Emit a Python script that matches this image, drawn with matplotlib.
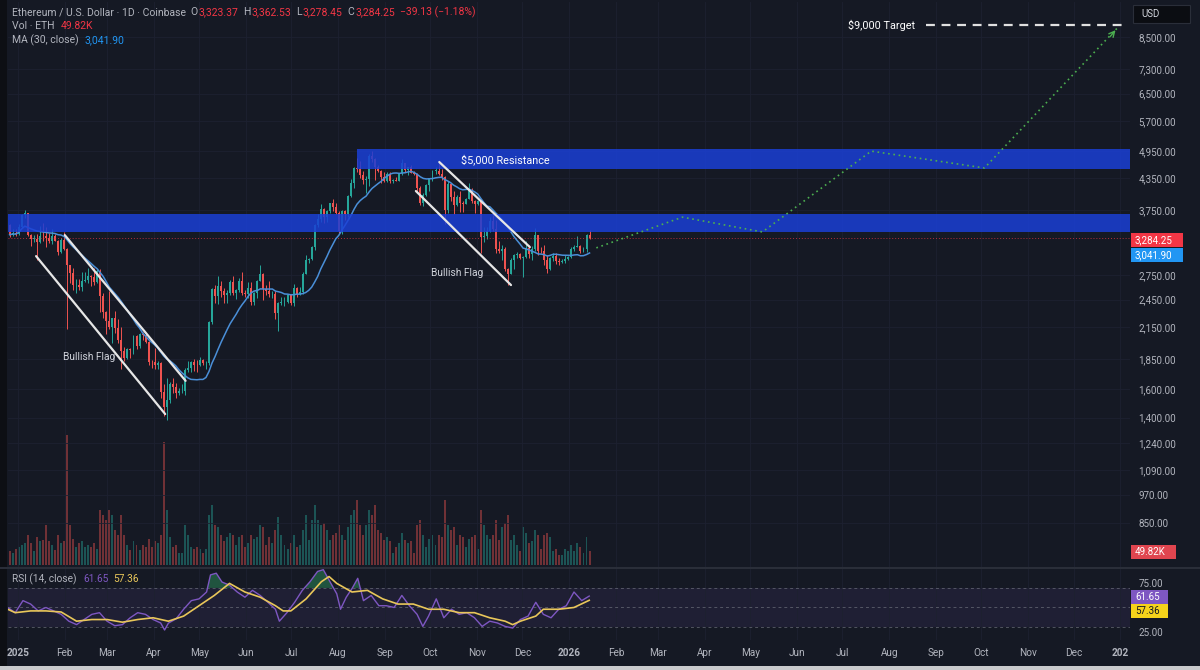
import numpy as np
import pandas as pd
import matplotlib
matplotlib.use("Agg")
import matplotlib.pyplot as plt
from matplotlib.patches import Rectangle
from matplotlib.colors import to_rgba
from matplotlib.ticker import NullLocator

plt.rcParams["font.family"] = ["Roboto", "DejaVu Sans"]

W, H = 1200, 670
BG = "#151924"
GRID = "#1d2130"
TXT = "#b2b5be"
UP = "#26a69a"
DOWN = "#ef5350"
RED = "#f23645"
ZONE = "#1a3fd6"
PURPLE = "#7e57c2"
YELLOW = "#e9c75a"

# day 0 = 1 Jan 2025, each candle covers two days, the first one 26-27 Dec 2024
first_day = -6
first_open = 3490
close = [3330, 3355, 3335, 3450, 3655, 3685, 3330, 3265, 3270, 3225,
         3310, 3305, 3280, 3240, 3310, 3240, 3075, 3250, 3120, 2880,
         2785, 2620, 2630, 2600, 2675, 2690, 2745, 2720, 2660, 2810,
         2490, 2305, 2215, 2150, 2240, 2140, 2020, 1920, 1860, 1935,
         1925, 2060, 1965, 2085, 2070, 2000, 1825, 1820, 1795, 1815,
         1580, 1470, 1520, 1645, 1620, 1575, 1585, 1585, 1755, 1770,
         1820, 1800, 1795, 1840, 1810, 1815, 2205, 2580, 2490, 2610,
         2550, 2500, 2530, 2665, 2530, 2565, 2680, 2530, 2510, 2590,
         2420, 2525, 2680, 2770, 2580, 2550, 2510, 2520, 2295, 2410,
         2420, 2425, 2500, 2405, 2590, 2515, 2540, 2770, 2960, 2970,
         3140, 3480, 3595, 3760, 3630, 3720, 3870, 3795, 3700, 3390,
         3720, 3680, 4010, 4260, 4580, 4550, 4425, 4310, 4340, 4830,
         4770, 4600, 4510, 4370, 4300, 4450, 4300, 4305, 4300, 4460,
         4670, 4520, 4590, 4470, 4450, 4160, 3870, 4020, 4215, 4350,
         4510, 4515, 4450, 4370, 3750, 4240, 3985, 3830, 3985, 3870,
         3855, 3950, 4120, 3900, 3850, 3905, 3290, 3310, 3395, 3560,
         3415, 3110, 3080, 3115, 2830, 2770, 2955, 3025, 3040, 2990,
         3000, 3130, 3040, 3115, 3320, 3090, 3080, 2950, 2830, 2980,
         3005, 2945, 2925, 2945, 2970, 3000, 3110, 3140, 3160, 3085,
         3120, 3320, 3284.25]
high = [3500, 3420, 3430, 3500, 3670, 3745, 3700, 3340, 3320, 3340,
        3470, 3525, 3450, 3360, 3420, 3350, 3250, 3285, 3380, 3130,
        2890, 2850, 2700, 2700, 2790, 2790, 2850, 2755, 2845, 2830,
        2830, 2530, 2320, 2550, 2250, 2320, 2230, 2150, 1960, 1950,
        1950, 2070, 2070, 2090, 2105, 2080, 2010, 1840, 1950, 1830,
        1820, 1640, 1690, 1660, 1690, 1650, 1610, 1640, 1775, 1830,
        1830, 1850, 1840, 1870, 1850, 1830, 2210, 2590, 2620, 2740,
        2680, 2590, 2560, 2690, 2740, 2580, 2710, 2790, 2560, 2660,
        2660, 2540, 2690, 2880, 2780, 2620, 2680, 2550, 2550, 2420,
        2480, 2480, 2520, 2520, 2640, 2600, 2600, 2790, 3020, 2990,
        3160, 3500, 3680, 3860, 3780, 3750, 3880, 3940, 3880, 3720,
        3740, 3740, 4030, 4330, 4600, 4790, 4720, 4500, 4400, 4880,
        4955, 4800, 4630, 4530, 4490, 4480, 4480, 4330, 4380, 4470,
        4760, 4680, 4600, 4640, 4500, 4470, 4200, 4060, 4230, 4360,
        4530, 4590, 4755, 4540, 4390, 4290, 4250, 4100, 4030, 4090,
        3900, 3960, 4250, 4160, 3930, 3920, 3930, 3450, 3460, 3630,
        3650, 3580, 3240, 3170, 3140, 2850, 2980, 3040, 3070, 3050,
        3010, 3230, 3180, 3160, 3440, 3330, 3150, 3180, 3020, 3000,
        3060, 3050, 2980, 2970, 3030, 3010, 3150, 3180, 3310, 3170,
        3150, 3340, 3400]
low = [3290, 3310, 3310, 3330, 3440, 3600, 3310, 3160, 3220, 2950,
       3200, 3240, 3150, 3210, 3190, 3235, 3020, 3060, 3100, 2130,
       2650, 2560, 2530, 2560, 2550, 2660, 2650, 2610, 2620, 2650,
       2310, 2250, 2080, 2130, 1990, 2090, 1990, 1760, 1830, 1850,
       1860, 1890, 1940, 1950, 2020, 1990, 1800, 1770, 1760, 1760,
       1540, 1410, 1385, 1500, 1570, 1540, 1560, 1570, 1560, 1740,
       1740, 1750, 1740, 1790, 1800, 1760, 1800, 2180, 2410, 2400,
       2480, 2410, 2410, 2500, 2500, 2460, 2540, 2500, 2480, 2470,
       2390, 2390, 2470, 2670, 2450, 2500, 2480, 2470, 2230, 2110,
       2390, 2380, 2410, 2390, 2380, 2480, 2500, 2520, 2760, 2920,
       2960, 3100, 3450, 3540, 3520, 3540, 3700, 3720, 3680, 3360,
       3350, 3570, 3630, 3980, 4150, 4480, 4360, 4240, 4060, 4200,
       4700, 4320, 4480, 4260, 4270, 4280, 4260, 4250, 4290, 4290,
       4420, 4490, 4430, 4460, 4430, 4080, 3840, 3820, 4000, 4100,
       4300, 4440, 4420, 4320, 3500, 3700, 3900, 3680, 3820, 3710,
       3710, 3850, 3940, 3880, 3700, 3840, 3060, 3220, 3260, 3380,
       3390, 3050, 3050, 2950, 2800, 2625, 2760, 2830, 2990, 2970,
       2720, 2990, 2990, 2950, 3090, 3020, 3050, 2890, 2775, 2820,
       2940, 2900, 2890, 2910, 2910, 2950, 2990, 3090, 3140, 3050,
       3070, 3070, 3270]
volume_k = [108, 92, 123, 139, 154, 169, 231, 169, 108, 216,
            185, 193, 308, 185, 154, 116, 231, 169, 185, 1000,
            308, 200, 139, 169, 185, 139, 154, 139, 169, 123,
            424, 385, 347, 424, 385, 270, 231, 385, 231, 154,
            116, 185, 154, 116, 154, 139, 200, 139, 185, 169,
            231, 950, 424, 216, 139, 154, 92, 92, 308, 231,
            139, 123, 139, 123, 92, 123, 385, 462, 308, 293,
            231, 185, 216, 246, 231, 154, 216, 231, 139, 169,
            231, 200, 216, 308, 293, 154, 216, 169, 270, 370,
            231, 154, 123, 169, 231, 139, 154, 270, 385, 193,
            347, 462, 347, 308, 323, 270, 193, 231, 246, 308,
            231, 193, 293, 385, 424, 501, 308, 231, 308, 424,
            385, 462, 270, 246, 193, 216, 185, 92, 139, 169,
            246, 193, 169, 185, 92, 308, 347, 231, 139, 200,
            231, 154, 231, 216, 501, 308, 270, 293, 154, 231,
            216, 139, 200, 216, 231, 123, 424, 308, 231, 200,
            231, 347, 193, 293, 323, 385, 193, 231, 154, 108,
            293, 246, 169, 185, 270, 231, 123, 231, 246, 216,
            108, 123, 77, 77, 123, 108, 154, 108, 169, 139,
            92, 216, 108]

rsi_day = [-6.8, -1.8, 3.3, 8.4, 13.4, 18.5, 23.6, 28.6, 33.7, 38.8,
           43.8, 48.9, 54, 59, 64.1, 69.2, 74.3, 79.3, 84.4, 89.5,
           94.5, 97.1, 99.6, 104.7, 109.7, 114.8, 119.9, 124.9, 127.5, 131.3,
           135.1, 140.1, 145.2, 150.3, 155.3, 160.4, 165.5, 170.5, 173.1, 178.1,
           183.2, 188.3, 193.4, 198.4, 202.2, 206, 211.1, 213.6, 217.4, 221.2,
           225, 228.8, 233.9, 239, 244, 249.1, 254.2, 259.2, 264.3, 268.1,
           271.9, 277, 282, 287.1, 292.2, 297.2, 302.3, 307.4, 312.4, 317.5,
           322.6, 327.6, 332.7, 337.8, 342.9, 347.9, 353, 358.1, 363.1, 368.2,
           373.3, 378.3]
rsi_val = [50, 44.7, 57, 53.5, 46.5, 50, 46.5, 43, 36, 32.5,
           37.7, 43, 44.7, 36, 31.4, 32.5, 39.5, 44.7, 43, 37.7,
           34.2, 27, 34, 38.4, 48.2, 57, 58.8, 65.8, 83.3, 85,
           76, 72.8, 65.8, 60.5, 67.5, 62.3, 55.3, 48.2, 36, 44.7,
           55.3, 67.5, 76.3, 86.8, 88.6, 78, 64, 48.2, 60.5, 69.3,
           79.8, 57, 62.3, 51.8, 51.8, 50, 62.3, 51.8, 43, 30.7,
           41.2, 58.8, 39.5, 48.2, 43, 44.7, 39.5, 30.7, 36, 34.2,
           30.7, 29, 37.7, 41.2, 55.3, 43, 39.5, 48.2, 51.8, 65.8,
           57, 61.65]
rsi_ma_day = [-6.8, -1.8, 8.4, 18.5, 28.6, 38.8, 48.9, 59, 69.2, 79.3,
              89.5, 99.6, 109.7, 119.9, 130, 140.1, 150.3, 160.4, 170.5, 175.6,
              180.7, 190.8, 200.9, 206, 211.1, 221.2, 231.4, 241.5, 251.6, 261.8,
              271.9, 282, 292.2, 302.3, 312.4, 322.6, 327.6, 332.7, 342.9, 347.9,
              358.1, 368.2, 378.3]
rsi_ma_val = [48.2, 44.7, 46.5, 46.5, 45.4, 36, 37.7, 37.7, 35, 37.7,
              39.5, 36, 41.2, 51.8, 62.3, 74.6, 65.8, 60.5, 51.8, 46.5,
              46.5, 58.8, 76.3, 81.6, 74.6, 65.8, 67.5, 58.8, 53.5, 53.5,
              48.2, 48.2, 44.7, 44.7, 39.5, 36, 32.5, 36, 41.2, 48.2,
              48.2, 50, 57.36]

# drawn projection and annotations
proj_day = [383, 440, 493, 565, 640, 728]
proj_price = [3130, 3620, 3375, 4950, 4570, 8870]
flag1_upper = ([31, 111], [3325, 1667])
flag1_lower = ([12, 97.5], [3010, 1424])
flag2_upper = ([279, 339], [4700, 3141])
flag2_lower = ([263.5, 326.5], [4097, 2624])
support_zone = (3375, 3675)
resistance_zone = (4550, 5000)
resistance_start = 224.5

price_ticks = [8500, 7300, 6500, 5700, 4950, 4350, 3750, 2750, 2450, 2150,
               1850, 1600, 1400, 1240, 1090, 970, 850]
month_days = [0, 31, 59, 90, 120, 151, 181, 212, 243, 273, 304, 334,
              365, 396, 424, 455, 485, 516, 546, 577, 608, 638, 669, 699, 730]
month_labels = ["2025", "Feb", "Mar", "Apr", "May", "Jun", "Jul", "Aug", "Sep", "Oct", "Nov", "Dec",
                "2026", "Feb", "Mar", "Apr", "May", "Jun", "Jul", "Aug", "Sep", "Oct", "Nov", "Dec", "202"]

XMIN, XMAX = -6.6, 736.4


def px_rect(x0, y0, x1, y1):
    return [x0 / W, 1 - y1 / H, (x1 - x0) / W, (y1 - y0) / H]


def text_row(fig, x_px, y_px, parts, size):
    renderer = fig.canvas.get_renderer()
    x = x_px
    for s, col, gap in parts:
        t = fig.text(x / W, 1 - y_px / H, s, color=col, fontsize=size, va="center", ha="left")
        x += t.get_window_extent(renderer).width + gap


def tag(fig, x0, x1, yc, label, fc, tc="white", h=14):
    fig.add_artist(Rectangle((x0 / W, 1 - (yc + h / 2) / H), (x1 - x0) / W, h / H,
                             transform=fig.transFigure, fc=fc, lw=0))
    fig.text((x0 + 4) / W, 1 - yc / H, label, color=tc, fontsize=7, va="center", ha="left")


fig = plt.figure(figsize=(W / 100, H / 100), dpi=100, facecolor=BG)

n = len(close)
x = first_day + 2 * np.arange(n) + 0.5
c = np.array(close, dtype=float)
o = np.concatenate([[first_open], c[:-1]])
hi = np.array(high, dtype=float)
lo = np.array(low, dtype=float)
up = c >= o
cols = np.where(up, UP, DOWN)

# volume sits under the price pane
ax_vol = fig.add_axes(px_rect(8, 2, 1130, 567))
ax_vol.set_facecolor(BG)
vcols = [to_rgba(UP if u else DOWN, 0.42) for u in up]
ax_vol.bar(x, volume_k, width=1.3, color=vcols, lw=0)
ax_vol.set_xlim(XMIN, XMAX)
ax_vol.set_ylim(-15, 4330)
ax_vol.set_xticks([])
ax_vol.set_yticks([])
for s in ax_vol.spines.values():
    s.set_visible(False)

ax = fig.add_axes(px_rect(8, 2, 1130, 567))
ax.set_facecolor("none")
ax.set_yscale("log")
ax.set_xlim(XMIN, XMAX)
ax.set_ylim(690, 10033)
ax.yaxis.tick_right()
ax.set_yticks(price_ticks)
ax.set_yticklabels([f"{v:,.2f}" for v in price_ticks])
ax.yaxis.set_minor_locator(NullLocator())
ax.set_xticks(month_days)
ax.tick_params(axis="x", length=0, labelbottom=False)
ax.tick_params(axis="y", length=0, pad=6, labelsize=7.1, labelcolor=TXT)
ax.grid(color=GRID, lw=0.6)
ax.set_axisbelow(True)
for s in ax.spines.values():
    s.set_visible(False)

body_lo = np.minimum(o, c)
body_h = np.maximum(np.abs(c - o), body_lo * 0.003)
ax.vlines(x, lo, hi, colors=cols, lw=0.7, zorder=2)
ax.bar(x, body_h, bottom=body_lo, width=1.3, color=cols, lw=0, zorder=2)

ma30 = pd.Series(c).rolling(15, min_periods=1).mean()
ax.plot(x, ma30, color="#4a8fd8", lw=1.1, zorder=2.5)

ax.axhline(3284.25, color=RED, lw=0.7, ls=(0, (1, 2)), alpha=0.7, zorder=2)

ax.add_patch(Rectangle((XMIN, support_zone[0]), XMAX - XMIN, support_zone[1] - support_zone[0],
                       fc=ZONE, alpha=0.85, lw=0, zorder=3))
ax.add_patch(Rectangle((resistance_start, resistance_zone[0]), XMAX - resistance_start,
                       resistance_zone[1] - resistance_zone[0], fc=ZONE, alpha=0.85, lw=0, zorder=3))

for line in (flag1_upper, flag1_lower, flag2_upper, flag2_lower):
    ax.plot(line[0], line[1], color="#e6e6e6", lw=1.6, solid_capstyle="round", zorder=4)

ax.plot(proj_day, proj_price, color="#4caf50", lw=1.2, ls=(0, (1, 2.2)), zorder=4)
ax.annotate("", xy=(proj_day[-1], proj_price[-1]), xytext=(proj_day[-1] - 6, proj_price[-1] * 0.95),
            arrowprops=dict(arrowstyle="->", color="#4caf50", lw=1), zorder=4)
ax.plot([601, 735], [9000, 9000], color="#e0e0e0", lw=1.6, ls=(0, (4, 3)), zorder=4)

ax.text(594, 9000, "$9,000 Target", color="white", fontsize=7.8, ha="right", va="center", zorder=5)
ax.text(323, 4760, "$5,000 Resistance", color="white", fontsize=7.8, ha="center", va="center", zorder=5)
ax.text(47, 1865, "Bullish Flag", color="#d1d4dc", fontsize=7.4, ha="center", va="center", zorder=5)
ax.text(290.7, 2778, "Bullish Flag", color="#d1d4dc", fontsize=7.4, ha="center", va="center", zorder=5)

# RSI pane
ax_rsi = fig.add_axes(px_rect(8, 569, 1130, 640))
ax_rsi.set_facecolor(BG)
ax_rsi.set_xlim(XMIN, XMAX)
ax_rsi.set_ylim(16.8, 89.3)
ax_rsi.axhspan(30, 70, color=PURPLE, alpha=0.1, lw=0)
for lvl in (70, 50, 30):
    ax_rsi.axhline(lvl, color="#787b86", lw=0.7, ls=(0, (3, 3)), alpha=0.6)
rv = np.array(rsi_val)
ax_rsi.fill_between(rsi_day, 70, rv, where=rv > 70, interpolate=True, color="#2e9e62", alpha=0.45, lw=0)
ax_rsi.plot(rsi_day, rsi_val, color=PURPLE, lw=1)
ax_rsi.plot(rsi_ma_day, rsi_ma_val, color=YELLOW, lw=1.2)
ax_rsi.yaxis.tick_right()
ax_rsi.set_yticks([75, 25])
ax_rsi.set_yticklabels(["75.00", "25.00"])
ax_rsi.set_xticks(month_days)
ax_rsi.set_xticklabels(month_labels)
for lab in ax_rsi.get_xticklabels():
    if lab.get_text().startswith("20"):
        lab.set_fontweight("bold")
ax_rsi.tick_params(axis="x", length=0, pad=6, labelsize=7.2, labelcolor=TXT)
ax_rsi.tick_params(axis="y", length=0, pad=6, labelsize=7.1, labelcolor=TXT)
ax_rsi.grid(axis="x", color=GRID, lw=0.6)
for s in ax_rsi.spines.values():
    s.set_visible(False)

# frame bits
fig.add_artist(Rectangle((0, 0), 7 / W, 1, transform=fig.transFigure, fc="#0d0f14", lw=0))
fig.add_artist(Rectangle((0, 1 - 569 / H), 1, 2 / H, transform=fig.transFigure, fc="#2a2e39", lw=0))
fig.add_artist(Rectangle((0, 0), 1, 4 / H, transform=fig.transFigure, fc="#c9cacd", lw=0))

# header legend
text_row(fig, 12, 12, [("Ethereum / U.S. Dollar · 1D · Coinbase", TXT, 4),
                       ("O", TXT, 1), ("3,323.37", RED, 5),
                       ("H", TXT, 1), ("3,362.53", RED, 5),
                       ("L", TXT, 1), ("3,278.45", RED, 5),
                       ("C", TXT, 1), ("3,284.25", RED, 5),
                       ("−39.13 (−1.18%)", RED, 0)], 7.5)
text_row(fig, 12, 26, [("Vol · ETH", TXT, 6), ("49.82K", RED, 0)], 7.5)
text_row(fig, 12, 40, [("MA (30, close)", TXT, 6), ("3,041.90", "#2196f3", 0)], 7.5)
text_row(fig, 12, 579, [("RSI (14, close)", TXT, 7), ("61.65", PURPLE, 4), ("57.36", YELLOW, 0)], 7.3)

# price scale tags
fig.add_artist(Rectangle((1133 / W, 1 - 23 / H), 57 / W, 18 / H, transform=fig.transFigure,
                         fc="#0b0d12", ec="#2a2e39", lw=0.8))
fig.text(1141 / W, 1 - 14 / H, "USD", color="#d1d4dc", fontsize=7, va="center", ha="left")
tag(fig, 1131, 1183, 240, "3,284.25", RED)
tag(fig, 1131, 1183, 255, "3,041.90", "#2196f3")
tag(fig, 1131, 1176, 552, "49.82K", "#e0454f")
tag(fig, 1131, 1168, 597, "61.65", PURPLE)
tag(fig, 1131, 1168, 611, "57.36", "#f5d31b", tc="#131722")

fig.savefig("out.png", dpi=100, facecolor=BG)
